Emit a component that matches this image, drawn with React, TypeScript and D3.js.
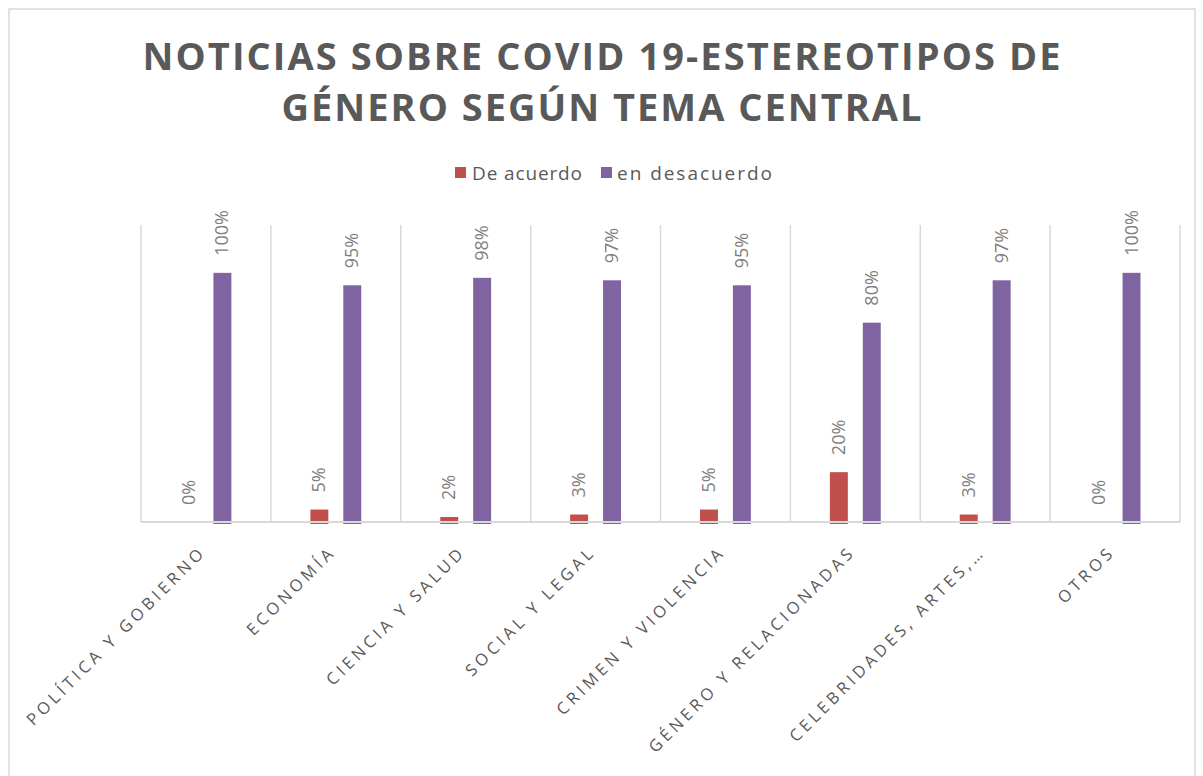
import * as d3 from 'd3';

const categories = [
  'POLÍTICA Y GOBIERNO',
  'ECONOMÍA',
  'CIENCIA Y SALUD',
  'SOCIAL Y LEGAL',
  'CRIMEN Y VIOLENCIA',
  'GÉNERO Y RELACIONADAS',
  'CELEBRIDADES, ARTES,…',
  'OTROS',
];
const seriesNames = ['De acuerdo', 'en desacuerdo'];
const deAcuerdo = [0, 0.05, 0.02, 0.03, 0.05, 0.2, 0.03, 0];
const enDesacuerdo = [1, 0.95, 0.98, 0.97, 0.95, 0.8, 0.97, 1];
const seriesColors = ['#C0504D', '#8064A2'];
const titleLines = ['NOTICIAS SOBRE COVID 19-ESTEREOTIPOS DE', 'GÉNERO SEGÚN TEMA CENTRAL'];

const W = 1203;
const H = 776;
const PLOT = { left: 141, right: 1180, top: 223, bottom: 522 };
const FONT = '"Open Sans", "DejaVu Sans", sans-serif';

export default function App() {
  const x0 = d3.scaleBand().domain(categories).range([PLOT.left, PLOT.right]).padding(0);
  const x1 = d3
    .scaleBand()
    .domain(seriesNames)
    .range([0, x0.bandwidth()])
    .paddingInner(0.4545)
    .paddingOuter(1.2);
  const y = d3.scaleLinear().domain([0, 1.2]).range([PLOT.bottom, PLOT.top]);
  const fmt = d3.format('.0%');

  const series = [deAcuerdo, enDesacuerdo];

  // separators between categories
  const seps = categories.map(c => x0(c) ?? 0).concat([PLOT.right]);

  return (
    <svg
      width={W}
      height={H}
      style={{ position: 'absolute', left: 0, top: 0, background: '#fff' }}
    >
      <rect x={9} y={9} width={1186} height={820} fill="#fff" stroke="#d9d9d9" strokeWidth={1.5} />

      {/* title */}
      {titleLines.map((t, i) => (
        <text
          key={i}
          x={W / 2}
          y={70 + i * 51}
          textAnchor="middle"
          fontFamily={FONT}
          fontWeight="bold"
          fontSize={38}
          fill="#595959"
          textLength={i === 0 ? 918 : 640}
          lengthAdjust="spacing"
        >
          {t}
        </text>
      ))}

      {/* legend */}
      <g fontFamily={FONT} fontSize={19} fill="#595959">
        <rect x={455} y={167} width={11} height={11} fill={seriesColors[0]} />
        <text x={472} y={180} textLength={110} lengthAdjust="spacing">
          {seriesNames[0]}
        </text>
        <rect x={601} y={167} width={11} height={11} fill={seriesColors[1]} />
        <text x={617} y={180} textLength={155} lengthAdjust="spacing">
          {seriesNames[1]}
        </text>
      </g>

      {/* gridlines */}
      {seps.map((sx, i) => (
        <line key={i} x1={sx} x2={sx} y1={PLOT.top + 2} y2={PLOT.bottom} stroke="#d9d9d9" strokeWidth={1.5} />
      ))}

      {/* bars */}
      {series.map((vals, si) =>
        vals.map((v, ci) => {
          const bx = (x0(categories[ci]) ?? 0) + (x1(seriesNames[si]) ?? 0);
          const bw = x1.bandwidth();
          const top = y(v);
          const cx = bx + bw / 2;
          return (
            <g key={`${si}-${ci}`}>
              {v > 0 && (
                <rect x={bx} y={top} width={bw} height={PLOT.bottom + 2 - top} fill={seriesColors[si]} />
              )}
              <text
                transform={`translate(${cx + 6},${top - 17}) rotate(-90)`}
                fontFamily={FONT}
                fontSize={18}
                fill="#808080"
              >
                {fmt(v)}
              </text>
            </g>
          );
        })
      )}

      {/* x axis line */}
      <line x1={PLOT.left} x2={PLOT.right} y1={PLOT.bottom} y2={PLOT.bottom} stroke="#d9d9d9" strokeWidth={2} />

      {/* category labels */}
      {categories.map(c => {
        const cx = (x0(c) ?? 0) + x0.bandwidth() / 2;
        return (
          <text
            key={c}
            transform={`translate(${cx + 1},${553}) rotate(-45)`}
            textAnchor="end"
            fontFamily={FONT}
            fontSize={16.5}
            letterSpacing={3.8}
            fill="#595959"
          >
            {c}
          </text>
        );
      })}
    </svg>
  );
}
